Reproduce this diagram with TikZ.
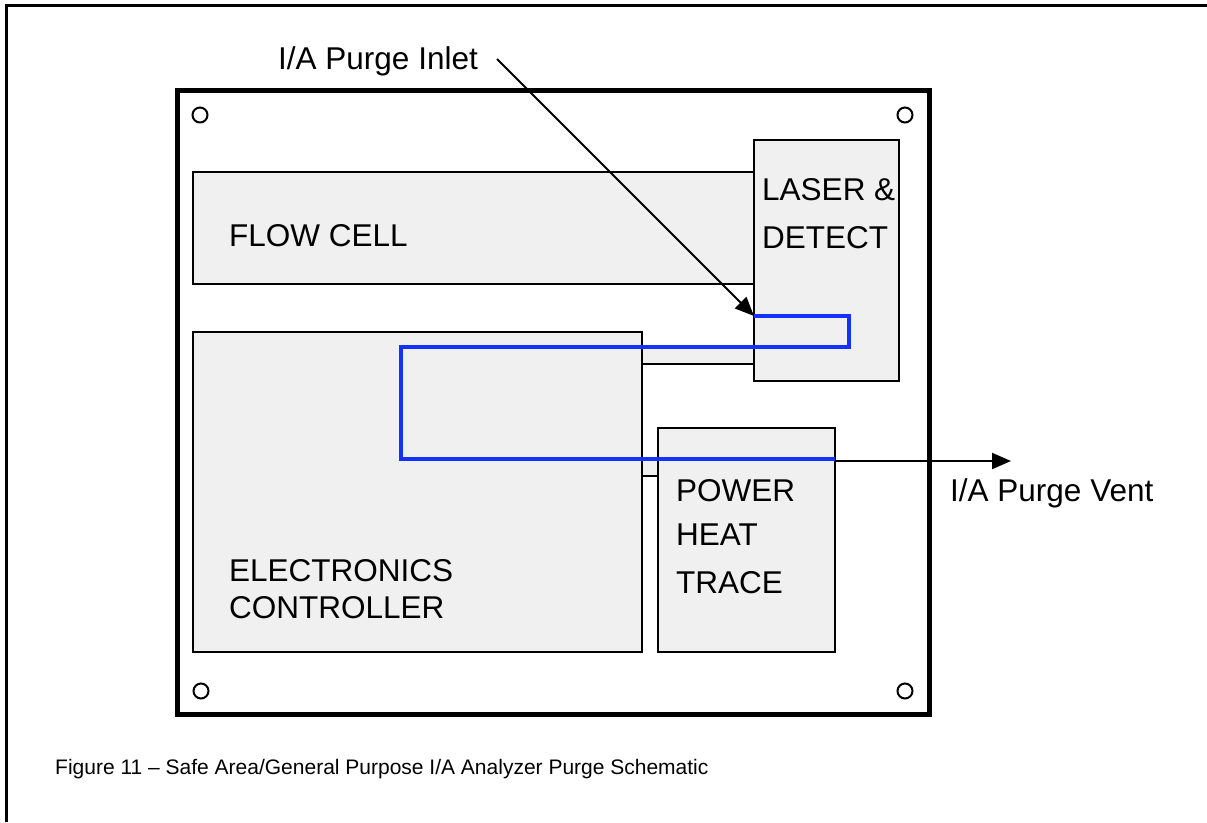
\documentclass[tikz,border=0pt]{standalone}
\usepackage{fontspec}
\setmainfont{Liberation Sans}
\usetikzlibrary{arrows.meta}
\definecolor{boxgray}{RGB}{240,240,240}
\definecolor{purgeblue}{RGB}{20,50,255}
\begin{document}
\begin{tikzpicture}[x=1pt,y=-1pt,
  unit/.style={draw=black, fill=boxgray, line width=2.5pt},
  lbl/.style={anchor=base west, inner sep=0pt, font=\fontsize{31.5}{36}\selectfont},
  hole/.style={draw=black, line width=2pt, fill=white},
  purge/.style={draw=purgeblue, line width=4.5pt},
  flowarrow/.style={draw=black, line width=2pt, -{Triangle[length=19pt,width=16pt]}}]
\useasboundingbox (0,0) rectangle (1207,822);
% outer frame (left and top only)
\draw[line width=3pt] (6.5,822) -- (6.5,5) -- (1207,5);
% enclosure
\draw[line width=5pt] (177.5,90.5) rectangle (929,714.5);
\foreach \n/\x/\y in {h1/200/115, h2/905/115, h3/201/691, h4/905/691}
  \node[hole, circle, minimum size=15pt, inner sep=0pt] (\n) at (\x,\y) {};
% units
\draw[unit] (193,172) rectangle (754,284);
\draw[unit] (642,347) rectangle (754,364);
\draw[unit] (642,459) rectangle (658,476);
\draw[unit] (193,332) rectangle (642,652);
\draw[unit] (658,428) rectangle (835,652);
\draw[unit] (754,140) rectangle (899,381);
% labels
\node[lbl] (flowlbl) at (229,246) {FLOW CELL};
\node[lbl] (laser1) at (762,200) {LASER \&};
\node[lbl] (laser2) at (762,248) {DETECT};
\node[lbl] (elec1) at (229,581.7) {ELECTRONICS};
\node[lbl] (elec2) at (229,618.3) {CONTROLLER};
\node[lbl] (pow1) at (676,501.7) {POWER};
\node[lbl] (pow2) at (676,545) {HEAT};
\node[lbl] (pow3) at (676,593) {TRACE};
\node[lbl] (inlet) at (278,69.5) {I/A Purge Inlet};
\node[lbl] (vent) at (950,501.7) {I/A Purge Vent};
\node[anchor=base west, inner sep=0pt, font=\fontsize{21}{24}\selectfont] (caption) at (55,774)
  {Figure 11 -- Safe Area/General Purpose I/A Analyzer Purge Schematic};
% purge path
\coordinate (pin) at (754,316);
\coordinate (pout) at (835,459);
\coordinate (inletstart) at (497,59);
\coordinate (ventend) at (1011,461);
\draw[purge, line join=miter] (pin) -- (849,316) -- (849,347) -- (401,347) -- (401,459) -- (pout);
\draw[flowarrow] (inletstart) -- (pin);
\draw[flowarrow] (835,461) -- (ventend);
\end{tikzpicture}
\end{document}
